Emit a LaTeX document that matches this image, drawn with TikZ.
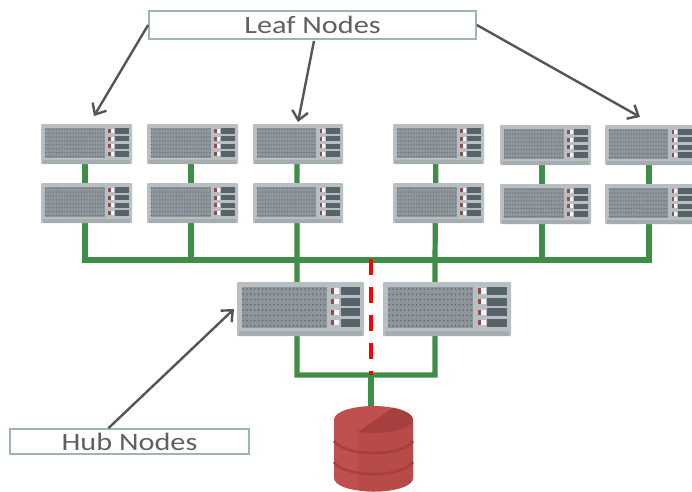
\documentclass[tikz,border=0pt]{standalone}
\usepackage{fontspec}
\setmainfont{Carlito}
\newfontfamily\labelfont[FakeStretch=1.21]{Carlito}
\usetikzlibrary{calc,arrows.meta}
\definecolor{srvbody}{HTML}{B8BEC1}
\definecolor{srvfoot}{HTML}{A6ADB1}
\definecolor{srvpanel}{HTML}{8E969B}
\definecolor{srvdot}{HTML}{626D73}
\definecolor{srvdrawer}{HTML}{56646A}
\definecolor{linkgreen}{HTML}{3E8E47}
\definecolor{dbred}{HTML}{C0504D}
\definecolor{dbdark}{HTML}{A5403E}
\definecolor{dbmid}{HTML}{B84B48}
\definecolor{boxedge}{HTML}{9FB3BA}
\definecolor{txtgray}{HTML}{606060}
\definecolor{arrowgray}{HTML}{555555}
\tikzset{
  x=1pt,y=-1pt,
  srvnode/.style={rectangle,inner sep=0pt,outer sep=0pt,fill=srvbody,rounded corners=1pt},
  link/.style={draw=linkgreen,line width=5.2pt,line join=miter},
  split/.style={draw=red,line width=4pt,dash pattern=on 16pt off 12pt},
  labelbox/.style={rectangle,draw=boxedge,line width=1.8pt,fill=white,inner sep=0pt,text=txtgray,font=\labelfont\fontsize{25}{25}\selectfont},
  callout/.style={draw=arrowgray,line width=2.4pt,-{Straight Barb[length=9pt,width=16pt,line width=2.4pt]}},
}
% name, cx, cy, w, h
\newcommand{\srv}[5]{%
  \node[srvnode,minimum width=#4 pt,minimum height=#5 pt] (#1) at (#2,#3) {};
  \fill[srvfoot] ($(#1.south west)+(2,-0.1*#5)$) rectangle ($(#1.south east)+(-2,0)$);
  \fill[srvpanel] ($(#1.north west)+(0.04*#4,0.1*#5)$) rectangle ($(#1.north west)+(0.705*#4,0.85*#5)$);
  \foreach \i in {0,...,7}{\foreach \j in {0,...,21}{
    \fill[srvdot] ($(#1.north west)+(0.048*#4+0.0305*#4*\j,0.13*#5+0.0975*#5*\i)$) circle (0.0075*#4);
  }}
  \foreach \k in {0,1,2,3}{
    \fill[srvdrawer] ($(#1.north west)+(0.815*#4,0.1*#5+0.195*#5*\k)$) rectangle ++(0.155*#4,0.14*#5);
    \fill[white!85!srvbody] ($(#1.north west)+(0.755*#4,0.12*#5+0.195*#5*\k)$) rectangle ++(0.05*#4,0.1*#5);
    \fill[dbdark!70!srvdot] ($(#1.north west)+(0.74*#4,0.12*#5+0.195*#5*\k)$) rectangle ++(0.025*#4,0.1*#5);
  }
}
\begin{document}
\begin{tikzpicture}
\useasboundingbox (0,0) rectangle (692,491);
\fill[white] (0,0) rectangle (692,491);
% named connection points
\coordinate (busL) at (85,260);
\coordinate (busR) at (649,260);
\coordinate (busHubA) at (297,260);
\coordinate (busHubB) at (435,260);
\coordinate (busMid) at (371,259);
\coordinate (joinMid) at (371,375);
\coordinate (joinL) at (297,375);
\coordinate (joinR) at (435,375);
% green links (drawn first, servers sit on top)
\coordinate (c1) at (85,144); \coordinate (c2) at (191,144); \coordinate (c3) at (297,144);
\coordinate (c4) at (436,144); \coordinate (c5) at (542,144); \coordinate (c6) at (649,144);
\draw[link] (c1) -- (busL) -- (busR) -- (c6);
\draw[link] (c2) -- (191,260);
\draw[link] (c3) -- (busHubA) -- (joinL) -- (joinR) -- (busHubB) -- (c4);
\draw[link] (c5) -- (542,260);
\draw[link] (joinMid) -- (371,410);
% servers
\srv{a1}{86.5}{144}{91}{40}
\srv{a2}{192.5}{144}{91}{40}
\srv{a3}{298}{144}{90}{40}
\srv{a4}{438.5}{144}{91}{40}
\srv{a5}{545.5}{145}{91}{40}
\srv{a6}{650}{145}{90}{40}
\srv{b1}{86.5}{203}{91}{40}
\srv{b2}{192.5}{203}{91}{40}
\srv{b3}{298}{203}{90}{40}
\srv{b4}{438.5}{203}{91}{40}
\srv{b5}{545.5}{204}{91}{40}
\srv{b6}{650}{204}{90}{40}
\srv{h1}{300.5}{309}{127}{54}
\srv{h2}{447}{309}{128}{54}
% red split line
\draw[split] (busMid) -- (joinMid);
% database
\node[inner sep=0pt,minimum width=79pt,minimum height=85pt] (db) at (373.5,448.5) {};
\fill[dbred] (334,420) -- (334,478) .. controls (334,486) and (352,491.5) .. (373.5,491.5)
  .. controls (395,491.5) and (413,486) .. (413,478) -- (413,420) -- cycle;
\fill[dbmid] (358,431.8) -- (358,490) .. controls (363,491) and (368,491.5) .. (373.5,491.5)
  .. controls (395,491.5) and (413,486) .. (413,478) -- (413,420) -- cycle;
\fill[dbred] (373.5,406) .. controls (395,406) and (413,412) .. (413,419.5)
  .. controls (413,427) and (395,433) .. (373.5,433)
  .. controls (352,433) and (334,427) .. (334,419.5)
  .. controls (334,412) and (352,406) .. (373.5,406) -- cycle;
\fill[dbdark] (358,431.8) -- (393,407.8) .. controls (405,410) and (413,415) .. (413,419.5)
  .. controls (413,427) and (396,433) .. (373.5,433) .. controls (368,433) and (363,432.7) .. (358,431.8) -- cycle;
\draw[dbdark,line width=2.6pt] (334,441) .. controls (345,457) and (402,457) .. (413,441);
\draw[dbdark,line width=2.6pt] (334,462) .. controls (345,478) and (402,478) .. (413,462);
% label boxes
\node[labelbox,minimum width=327pt,minimum height=28pt] (leaf) at (312.5,25) {Leaf Nodes};
\node[labelbox,minimum width=239pt,minimum height=25pt] (hub) at (129.5,441.5) {Hub Nodes};
% callouts
\draw[callout] (leaf.west) -- ($(a1.north)+(7.5,-8)$);
\draw[callout] ($(leaf.south)+(1.5,1)$) -- ($(a3.north)+(0,-2)$);
\draw[callout] (leaf.east) -- ($(a6.north)+(-10,-8)$);
\draw[callout] ($(hub.north)+(-21,0)$) -- ($(h1.west)+(-3,0)$);
\end{tikzpicture}
\end{document}
